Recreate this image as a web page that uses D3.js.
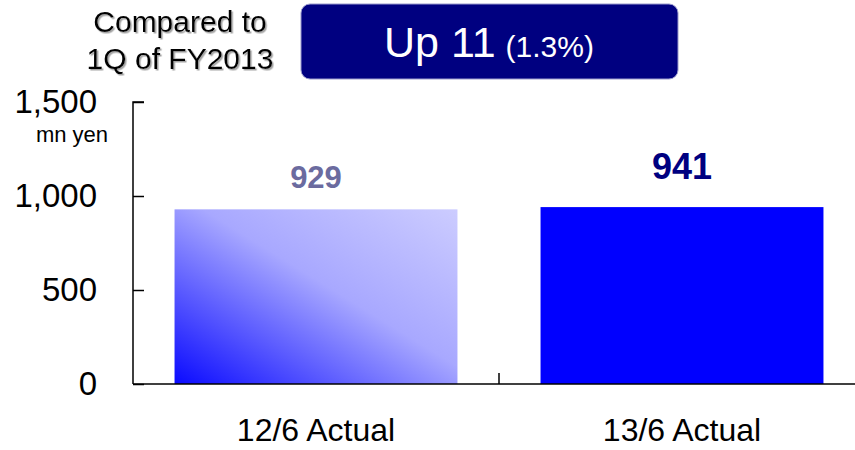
<!DOCTYPE html>
<html><head><meta charset="utf-8">
<script src="https://cdn.jsdelivr.net/npm/d3@7"></script>
<style>
html,body{margin:0;padding:0;background:#fff;}
svg{display:block;font-family:"Liberation Sans",Arial,sans-serif;}
</style></head>
<body>
<svg id="c" width="855" height="450"></svg>
<script>
const categories = ["12/6 Actual", "13/6 Actual"];
const values = [929, 941];
const valueLabels = ["929", "941"];
const yTicks = [0, 500, 1000, 1500];
const unitLabel = "mn yen";
const compareLines = ["Compared to", "1Q of FY2013"];
const changeMain = "Up 11";
const changePct = "(1.3%)";

const svg = d3.select("#c");
const defs = svg.append("defs");
const g1 = defs.append("linearGradient").attr("id","grad1")
  .attr("x1","0%").attr("y1","100%").attr("x2","100%").attr("y2","0%");
g1.append("stop").attr("offset","0%").attr("stop-color","#0a0aff");
g1.append("stop").attr("offset","55%").attr("stop-color","#a8a8ff");
g1.append("stop").attr("offset","100%").attr("stop-color","#ccccff");
const sh = defs.append("filter").attr("id","shadow").attr("x","-10%").attr("y","-10%").attr("width","130%").attr("height","140%");
sh.append("feDropShadow").attr("dx",1.5).attr("dy",1.5).attr("stdDeviation",0.6).attr("flood-color","#999").attr("flood-opacity",0.9);

const x0 = 133, x1 = 865, yBase = 384, yTop = 102;
const x = d3.scaleBand().domain(categories).range([x0, x1]).paddingInner(0.227).paddingOuter(0.1135);
const y = d3.scaleLinear().domain([0, 1500]).range([yBase, yTop]);

// bars
const fills = ["url(#grad1)", "#0000ff"];
svg.selectAll("rect.bar").data(values).enter().append("rect")
  .attr("class","bar")
  .attr("x",(d,i)=>x(categories[i]))
  .attr("width",x.bandwidth())
  .attr("y",d=>y(d))
  .attr("height",d=>yBase-y(d))
  .attr("fill",(d,i)=>fills[i]);

// y axis
const yAxis = d3.axisRight(y).tickValues(yTicks).tickSize(11).tickFormat("");
const ya = svg.append("g").attr("transform",`translate(${x0},0)`).call(yAxis);
ya.select(".domain").attr("stroke","#000").attr("stroke-width",1.5).attr("d",`M11,${yTop}H0V${yBase}`);
ya.selectAll(".tick line").attr("stroke","#000").attr("stroke-width",1.5);
// y tick labels
svg.selectAll("text.ytl").data(yTicks).enter().append("text")
  .attr("class","ytl").attr("x",97).attr("y",d=>y(d)+11)
  .attr("text-anchor","end").attr("font-size",33).attr("fill","#000")
  .text(d=>d3.format(",")(d));
svg.append("text").attr("x",72).attr("y",142).attr("text-anchor","middle")
  .attr("font-size",22).attr("fill","#000").text(unitLabel);

// x axis
svg.append("line").attr("x1",x0).attr("x2",855).attr("y1",yBase).attr("y2",yBase)
  .attr("stroke","#000").attr("stroke-width",1.5);
const bounds = [x(categories[1]) - x.step()*x.paddingInner()/2];
svg.selectAll("line.xt").data(bounds).enter().append("line").attr("class","xt")
  .attr("x1",d=>d).attr("x2",d=>d).attr("y1",yBase).attr("y2",yBase-11)
  .attr("stroke","#000").attr("stroke-width",1.5);
svg.selectAll("text.xl").data(categories).enter().append("text")
  .attr("class","xl").attr("x",d=>x(d)+x.bandwidth()/2).attr("y",441)
  .attr("text-anchor","middle").attr("font-size",32).attr("fill","#000").text(d=>d);

// value labels
const vStyles = [{size:31, color:"#6b6b9f", dy:21},{size:36, color:"#000080", dy:28}];
svg.selectAll("text.vl").data(values).enter().append("text")
  .attr("class","vl").attr("x",(d,i)=>x(categories[i])+x.bandwidth()/2)
  .attr("y",(d,i)=>y(d)-vStyles[i].dy)
  .attr("text-anchor","middle").attr("font-weight","bold")
  .attr("font-size",(d,i)=>vStyles[i].size).attr("fill",(d,i)=>vStyles[i].color)
  .text((d,i)=>valueLabels[i]);

// compare label
svg.selectAll("text.cmp").data(compareLines).enter().append("text")
  .attr("class","cmp").attr("x",180).attr("y",(d,i)=>32+i*37)
  .attr("text-anchor","middle").attr("font-size",30).attr("fill","#000")
  .attr("filter","url(#shadow)").text(d=>d);

// change box
svg.append("rect").attr("x",301).attr("y",4).attr("width",377).attr("height",75)
  .attr("rx",9).attr("fill","#000080").attr("stroke","#9999cc").attr("stroke-width",1);
const t = svg.append("text").attr("x",489).attr("y",57).attr("text-anchor","middle").attr("fill","#fff");
t.append("tspan").attr("font-size",43).text(changeMain);
t.append("tspan").attr("font-size",30).attr("dx",10).text(changePct);
</script>
</body></html>
